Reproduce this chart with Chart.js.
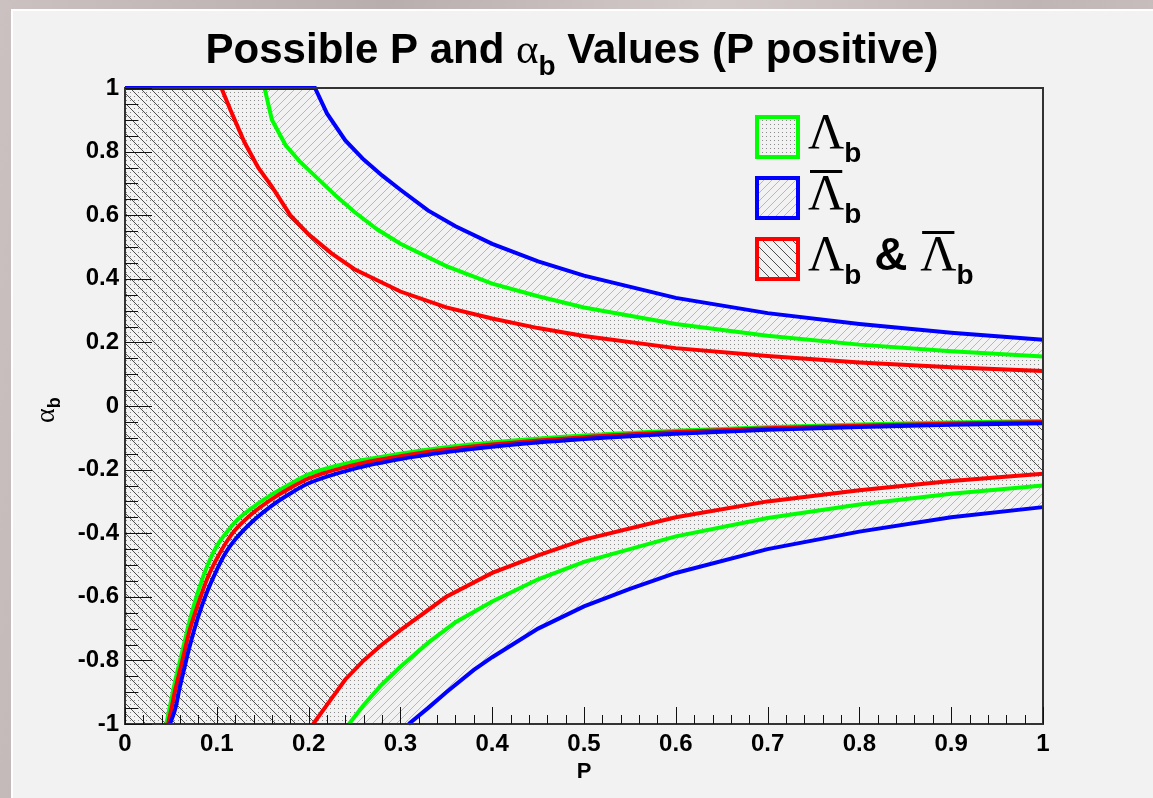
<!DOCTYPE html>
<html>
<head>
<meta charset="utf-8">
<title>Possible P and alpha_b Values (P positive)</title>
<script src="https://cdn.jsdelivr.net/npm/chart.js@4.4.1/dist/chart.umd.min.js"></script>
<style>
  html, body { margin: 0; padding: 0; }
  body {
    width: 1153px; height: 798px; overflow: hidden; position: relative;
    background: linear-gradient(100deg, #cbc1c0 0%, #b9aeae 30%, #d3cbca 55%, #bfb5b4 80%, #cfc6c5 100%);
  }
  #panel {
    position: absolute; left: 11px; top: 9px; width: 1140px; height: 787px;
    border-top: 2px solid #fff; border-left: 2px solid #fff; background: #f2f2f2;
  }
  canvas { display: block; }
</style>
</head>
<body>
<div id="panel"><canvas id="chart" width="1140" height="787"></canvas></div>
<script>
// --- Values (P on x, alpha_b on y) ---
const xTickValues = [0, 0.1, 0.2, 0.3, 0.4, 0.5, 0.6, 0.7, 0.8, 0.9, 1];
const yTickValues = [-1, -0.8, -0.6, -0.4, -0.2, 0, 0.2, 0.4, 0.6, 0.8, 1];

// upper branches (clamped at alpha = 1 on the left)
const upperRedP   = [0, 0.105, 0.115, 0.13, 0.145, 0.16, 0.18, 0.2, 0.225, 0.25, 0.3, 0.35, 0.4, 0.45, 0.5, 0.6, 0.7, 0.8, 0.9, 1.0];
const upperRedA   = [1, 1, 0.93, 0.83, 0.75, 0.69, 0.6, 0.54, 0.48, 0.43, 0.36, 0.31, 0.275, 0.245, 0.22, 0.182, 0.157, 0.137, 0.122, 0.11];
const upperGreenP = [0, 0.152, 0.16, 0.175, 0.19, 0.21, 0.23, 0.25, 0.275, 0.3, 0.35, 0.4, 0.45, 0.5, 0.6, 0.7, 0.8, 0.9, 1.0];
const upperGreenA = [1, 1, 0.9, 0.82, 0.77, 0.715, 0.66, 0.61, 0.555, 0.51, 0.44, 0.385, 0.345, 0.31, 0.258, 0.221, 0.193, 0.172, 0.156];
const upperBlueP  = [0, 0.207, 0.22, 0.24, 0.26, 0.28, 0.3, 0.33, 0.36, 0.4, 0.45, 0.5, 0.6, 0.7, 0.8, 0.9, 1.0];
const upperBlueA  = [1, 1, 0.92, 0.835, 0.775, 0.725, 0.68, 0.615, 0.565, 0.51, 0.455, 0.41, 0.34, 0.292, 0.258, 0.23, 0.208];

// lower-left branches (steep ones near P = 0.05)
const lowLeftGreenP = [0.045, 0.05, 0.055, 0.06, 0.065, 0.07, 0.08, 0.09, 0.1, 0.11, 0.12, 0.14, 0.16, 0.18, 0.2, 0.25, 0.3, 0.35, 0.4, 0.5, 0.6, 0.7, 0.8, 0.9, 1.0];
const lowLeftGreenA = [-1, -0.93, -0.86, -0.8, -0.74, -0.68, -0.58, -0.5, -0.44, -0.4, -0.365, -0.317, -0.278, -0.245, -0.215, -0.175, -0.15, -0.13, -0.115, -0.093, -0.078, -0.067, -0.058, -0.052, -0.047];
const lowLeftRedP   = [0.047, 0.05, 0.055, 0.06, 0.065, 0.07, 0.08, 0.09, 0.1, 0.11, 0.12, 0.14, 0.16, 0.18, 0.2, 0.25, 0.3, 0.35, 0.4, 0.5, 0.6, 0.7, 0.8, 0.9, 1.0];
const lowLeftRedA   = [-1, -0.96, -0.89, -0.83, -0.77, -0.71, -0.62, -0.54, -0.48, -0.43, -0.39, -0.335, -0.293, -0.258, -0.228, -0.185, -0.158, -0.137, -0.121, -0.098, -0.082, -0.07, -0.062, -0.055, -0.05];
const lowLeftBlueP  = [0.049, 0.055, 0.06, 0.065, 0.07, 0.08, 0.09, 0.1, 0.11, 0.12, 0.14, 0.16, 0.18, 0.2, 0.25, 0.3, 0.35, 0.4, 0.5, 0.6, 0.7, 0.8, 0.9, 1.0];
const lowLeftBlueA  = [-1, -0.95, -0.88, -0.82, -0.76, -0.66, -0.58, -0.515, -0.46, -0.42, -0.36, -0.313, -0.275, -0.243, -0.197, -0.167, -0.145, -0.128, -0.104, -0.087, -0.075, -0.066, -0.059, -0.054];

// lower-right branches (clamped at alpha = -1 on the left, not drawn there)
const lowRightRedP   = [0, 0.205, 0.22, 0.24, 0.26, 0.28, 0.3, 0.35, 0.4, 0.45, 0.5, 0.6, 0.7, 0.8, 0.9, 1.0];
const lowRightRedA   = [-1, -1, -0.94, -0.86, -0.8, -0.75, -0.705, -0.6, -0.525, -0.47, -0.42, -0.35, -0.3, -0.265, -0.236, -0.213];
const lowRightGreenP = [0, 0.244, 0.26, 0.28, 0.3, 0.33, 0.36, 0.4, 0.45, 0.5, 0.6, 0.7, 0.8, 0.9, 1.0];
const lowRightGreenA = [-1, -1, -0.94, -0.875, -0.82, -0.745, -0.68, -0.615, -0.545, -0.49, -0.41, -0.352, -0.31, -0.276, -0.25];
const lowRightBlueP  = [0, 0.309, 0.33, 0.35, 0.38, 0.4, 0.45, 0.5, 0.55, 0.6, 0.7, 0.8, 0.9, 1.0];
const lowRightBlueA  = [-1, -1, -0.95, -0.9, -0.83, -0.79, -0.7, -0.63, -0.575, -0.525, -0.45, -0.395, -0.35, -0.318];

const RED = '#ff0000', GREEN = '#00ff00', BLUE = '#0000ff';
const SANS = '"Liberation Sans", Arial, Helvetica, sans-serif';
const SERIF = '"Liberation Serif", "Times New Roman", serif';

const canvas = document.getElementById('chart');
const ctx = canvas.getContext('2d');

// ROOT-like fill patterns
function makePattern(kind, color, size, bg) {
  const c = document.createElement('canvas');
  c.width = size; c.height = size;
  const g = c.getContext('2d');
  if (bg) { g.fillStyle = bg; g.fillRect(0, 0, size, size); }
  g.strokeStyle = color; g.fillStyle = color; g.lineWidth = 1;
  if (kind === 'dots') {
    g.fillRect(1, 1, 1, 1);
  } else {
    g.beginPath();
    for (let k = -1; k <= 1; k++) {
      if (kind === 'back') { g.moveTo(k * size, 0); g.lineTo(k * size + size, size); }
      else { g.moveTo(k * size, size); g.lineTo(k * size + size, 0); }
    }
    g.stroke();
  }
  return ctx.createPattern(c, 'repeat');
}
const redHatch = makePattern('back', '#4d4d4d', 10);
const greenDots = makePattern('dots', '#8c8c8c', 4, '#f2f2f2');  // opaque, hides the blue hatch
const blueHatch = makePattern('fwd', '#b8b8b8', 8);

const pts = (p, a) => p.map((v, i) => ({ x: v, y: a[i] }));
const hideClamped = c => (c.p0.parsed.y <= -1 && c.p1.parsed.y <= -1) ? 'rgba(0,0,0,0)' : undefined;

function curve(p, a, color, extra) {
  return Object.assign({
    data: pts(p, a), borderColor: color, borderWidth: 4, pointRadius: 0,
    fill: false, tension: 0, clip: 4
  }, extra || {});
}
function area(p, a, pattern, target) {
  return {
    data: pts(p, a), borderColor: 'rgba(0,0,0,0)', borderWidth: 0, pointRadius: 0,
    backgroundColor: pattern, fill: target, tension: 0
  };
}

const smooth = { cubicInterpolationMode: 'monotone' };
const datasets = [
  curve(upperBlueP, upperBlueA, BLUE),                 // 0
  curve(upperGreenP, upperGreenA, GREEN),              // 1
  curve(upperRedP, upperRedA, RED),                    // 2
  curve(lowLeftBlueP, lowLeftBlueA, BLUE, smooth),     // 3
  curve(lowLeftRedP, lowLeftRedA, RED, smooth),        // 4
  curve(lowLeftGreenP, lowLeftGreenA, GREEN, smooth),  // 5
  curve(lowRightBlueP, lowRightBlueA, BLUE, { segment: { borderColor: hideClamped } }),   // 6
  curve(lowRightGreenP, lowRightGreenA, GREEN, { segment: { borderColor: hideClamped } }), // 7
  curve(lowRightRedP, lowRightRedA, RED, { segment: { borderColor: hideClamped } }),       // 8
  area(upperRedP, upperRedA, redHatch, 8),             // 9
  area(upperGreenP, upperGreenA, greenDots, 7),        // 10
  area(upperBlueP, upperBlueA, blueHatch, 6)           // 11
];

// draws text pieces one after another (for sub/superscripts and overlines)
function drawRich(c, x, y, parts, align) {
  let w = 0;
  parts.forEach(p => { c.font = p.font; p.w = c.measureText(p.t).width; w += p.w; });
  let cx = align === 'center' ? x - w / 2 : x;
  parts.forEach(p => {
    c.font = p.font;
    c.fillText(p.t, cx, y + (p.dy || 0));
    if (p.over) c.fillRect(cx + 2, y - p.over, p.w - 4, 3);
    cx += p.w;
  });
}

const decorations = {
  id: 'decorations',
  afterDatasetsDraw(chart) {
    const c = chart.ctx, a = chart.chartArea, xs = chart.scales.x, ys = chart.scales.y;
    c.save();
    // frame
    c.strokeStyle = '#333'; c.lineWidth = 2;
    c.strokeRect(a.left, a.top, a.right - a.left, a.bottom - a.top);
    // tick marks pointing inside
    c.strokeStyle = '#111'; c.lineWidth = 1;
    c.beginPath();
    xs.ticks.forEach((t, i) => {
      const px = Math.round(xs.getPixelForValue(t.value)) + 0.5;
      c.moveTo(px, a.bottom); c.lineTo(px, a.bottom - 17);
      const nx = xs.ticks[i + 1];
      if (nx) for (let k = 1; k < 5; k++) {
        const m = Math.round(xs.getPixelForValue(t.value + (nx.value - t.value) * k / 5)) + 0.5;
        c.moveTo(m, a.bottom); c.lineTo(m, a.bottom - 9);
      }
    });
    ys.ticks.forEach((t, i) => {
      const py = Math.round(ys.getPixelForValue(t.value)) + 0.5;
      c.moveTo(a.left, py); c.lineTo(a.left + 27, py);
      const nx = ys.ticks[i + 1];
      if (nx) for (let k = 1; k < 4; k++) {
        const m = Math.round(ys.getPixelForValue(t.value + (nx.value - t.value) * k / 4)) + 0.5;
        c.moveTo(a.left, m); c.lineTo(a.left + 13, m);
      }
    });
    c.stroke();

    // legend
    const items = [
      { color: GREEN, pat: greenDots, top: 104, parts: [
        { t: '\u039B', font: '50px ' + SERIF }, { t: 'b', font: 'bold 28px ' + SANS, dy: 14 }] },
      { color: BLUE, pat: blueHatch, top: 165, parts: [
        { t: '\u039B', font: '50px ' + SERIF, over: 39 }, { t: 'b', font: 'bold 28px ' + SANS, dy: 14 }] },
      { color: RED, pat: redHatch, top: 226, parts: [
        { t: '\u039B', font: '50px ' + SERIF }, { t: 'b', font: 'bold 28px ' + SANS, dy: 14 },
        { t: ' & ', font: 'bold 46px ' + SANS },
        { t: '\u039B', font: '50px ' + SERIF, over: 39 }, { t: 'b', font: 'bold 28px ' + SANS, dy: 14 }] }
    ];
    items.forEach(it => {
      c.fillStyle = it.pat;
      c.fillRect(742, it.top, 45, 44);
      c.strokeStyle = it.color; c.lineWidth = 4;
      c.strokeRect(744, it.top + 2, 41, 40);
      c.fillStyle = '#000';
      drawRich(c, 795, it.top + 33, it.parts);
    });
    c.restore();
  },
  afterDraw(chart) {
    const c = chart.ctx;
    c.save();
    c.fillStyle = '#000';
    c.textBaseline = 'alphabetic';
    // title
    drawRich(c, 559, 52, [
      { t: 'Possible P and ', font: 'bold 42px ' + SANS },
      { t: '\u03B1', font: '43px ' + SERIF },
      { t: 'b', font: 'bold 28px ' + SANS, dy: 12 },
      { t: ' Values (P positive)', font: 'bold 42px ' + SANS }
    ], 'center');
    // y axis title, rotated
    c.translate(41, 412);
    c.rotate(-Math.PI / 2);
    drawRich(c, 0, 0, [
      { t: '\u03B1', font: '28px ' + SERIF },
      { t: 'b', font: 'bold 18px ' + SANS, dy: 6 }
    ]);
    c.restore();
  }
};

new Chart(ctx, {
  type: 'line',
  data: { datasets },
  options: {
    responsive: false,
    animation: false,
    events: [],
    layout: { padding: { top: 77, right: 110, bottom: 0, left: 0 } },
    plugins: {
      legend: { display: false },
      tooltip: { enabled: false },
      title: { display: false },
      filler: { drawTime: 'beforeDatasetsDraw' }
    },
    scales: {
      x: {
        type: 'linear', min: 0, max: 1,
        afterBuildTicks: s => { s.ticks = xTickValues.map(v => ({ value: v })); },
        afterFit: s => { s.height = 74; },
        grid: { display: false, drawTicks: false },
        border: { display: false },
        ticks: { color: '#000', font: { family: SANS, size: 24, weight: 'bold' }, padding: 6, maxRotation: 0,
                 callback: v => String(+v.toFixed(1)) },
        title: { display: true, text: 'P', color: '#000', font: { family: SANS, size: 22, weight: 'bold' },
                 padding: { top: 0, bottom: 13 } }
      },
      y: {
        type: 'linear', min: -1, max: 1,
        afterBuildTicks: s => { s.ticks = yTickValues.map(v => ({ value: v })); },
        afterFit: s => { s.width = 112; },
        grid: { display: false, drawTicks: false },
        border: { display: false },
        ticks: { color: '#000', font: { family: SANS, size: 24, weight: 'bold' }, padding: 6,
                 callback: v => String(+v.toFixed(1)) }
      }
    }
  },
  plugins: [decorations]
});
</script>
</body>
</html>
